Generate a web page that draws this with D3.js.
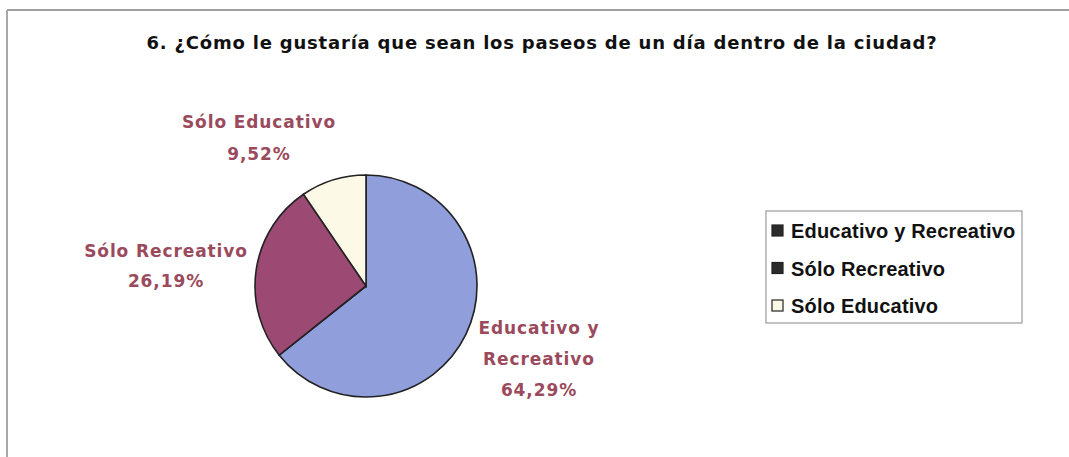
<!DOCTYPE html>
<html>
<head>
<meta charset="utf-8">
<script src="https://cdn.jsdelivr.net/npm/d3@7"></script>
<style>
  body { margin: 0; background: #fff; }
  svg { display: block; font-family: "Liberation Sans", Arial, sans-serif; }
</style>
</head>
<body>
<div id="chart"></div>
<script>
// Datos
const categorias = ['Educativo y Recreativo', 'Sólo Recreativo', 'Sólo Educativo'];
const porcentajes = [64.29, 26.19, 9.52];
const etiquetas = [['Educativo y', 'Recreativo', '64,29%'], ['Sólo Recreativo', '26,19%'], ['Sólo Educativo', '9,52%']];
const colores = ['#909fdb', '#9c4a73', '#fcfae6'];
const coloresLeyenda = ['#2b2b2b', '#2b2b2b', '#fcfae6'];

const width = 1069;
const height = 457;

const svg = d3.select('#chart')
  .append('svg')
  .attr('width', width)
  .attr('height', height);

// Marco del gráfico (solo se ven arriba y a la izquierda)
svg.append('line')
  .attr('x1', 7).attr('y1', 10).attr('x2', width).attr('y2', 10)
  .attr('stroke', '#a0a0a0').attr('stroke-width', 2);
svg.append('line')
  .attr('x1', 7).attr('y1', 10).attr('x2', 7).attr('y2', height)
  .attr('stroke', '#a8a8a8').attr('stroke-width', 2);

// Título
svg.append('text')
  .attr('x', 542)
  .attr('y', 49)
  .attr('text-anchor', 'middle')
  .style('font-family', '"DejaVu Sans", sans-serif')
  .style('font-size', '18px')
  .style('font-weight', 'bold')
  .style('letter-spacing', '0.8px')
  .style('fill', '#111')
  .text('6. ¿Cómo le gustaría que sean los paseos de un día dentro de la ciudad?');

// Torta
const cx = 366, cy = 286, r = 111;
const pie = d3.pie().sort(null).value((d) => d)(porcentajes);
const arc = d3.arc().innerRadius(0).outerRadius(r);

const g = svg.append('g').attr('transform', `translate(${cx},${cy})`);
g.selectAll('path')
  .data(pie)
  .enter()
  .append('path')
  .attr('d', arc)
  .attr('fill', (d, i) => colores[i])
  .attr('stroke', '#222')
  .attr('stroke-width', 1.6);

// Etiquetas de cada porción, ubicadas fuera de la torta
const posEtiquetas = [[539, 334], [166, 257], [259, 128]];
const lineaAlto = [31, 30, 32];
etiquetas.forEach((lineas, i) => {
  const t = svg.append('text')
    .attr('x', posEtiquetas[i][0])
    .attr('y', posEtiquetas[i][1])
    .attr('text-anchor', 'middle')
    .style('font-family', '"DejaVu Sans", sans-serif')
    .style('font-size', '17px')
    .style('font-weight', 'bold')
    .style('letter-spacing', '0.9px')
    .style('fill', '#9a4a5c');
  lineas.forEach((l, j) => {
    t.append('tspan')
      .attr('x', posEtiquetas[i][0])
      .attr('dy', j === 0 ? 0 : lineaAlto[i])
      .text(l);
  });
});

// Leyenda
const leyenda = svg.append('g').attr('transform', 'translate(766,211)');
leyenda.append('rect')
  .attr('width', 256).attr('height', 112)
  .attr('fill', '#fff').attr('stroke', '#999').attr('stroke-width', 1.2);
const yLeyenda = d3.scalePoint().domain(categorias).range([20, 95]);
categorias.forEach((c, i) => {
  leyenda.append('rect')
    .attr('x', 6).attr('y', yLeyenda(c) - 6)
    .attr('width', 11).attr('height', 11)
    .attr('fill', coloresLeyenda[i])
    .attr('stroke', '#222').attr('stroke-width', 1.2);
  leyenda.append('text')
    .attr('x', 25).attr('y', yLeyenda(c) + 7)
    .style('font-size', '20px')
    .style('font-weight', 'bold')
    .style('letter-spacing', '0.2px')
    .style('fill', '#111')
    .text(c);
});
</script>
</body>
</html>
